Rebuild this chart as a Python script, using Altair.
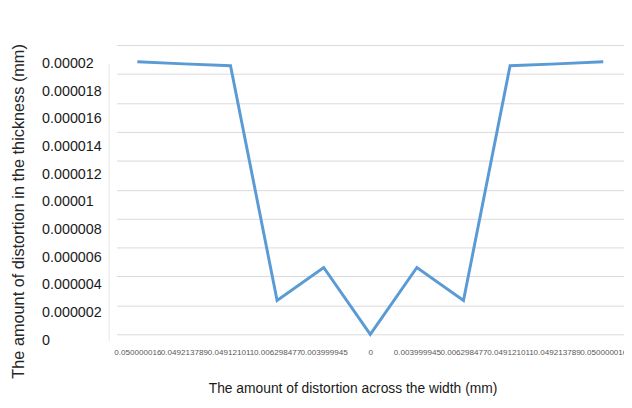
import altair as alt
import pandas as pd

x_labels = ["0.050000016", "0.049213789", "0.049121011", "0.006298477", "0.003999945",
            "0", "0.003999945", "0.006298477", "0.049121011", "0.049213789", "0.050000016"]
y_values = [1.884e-5, 1.870e-5, 1.857e-5, 2.34e-6, 4.62e-6, 0.0,
            4.62e-6, 2.34e-6, 1.857e-5, 1.870e-5, 1.884e-5]
y_ticks = [0, 2e-6, 4e-6, 6e-6, 8e-6, 1e-5, 1.2e-5, 1.4e-5, 1.6e-5, 1.8e-5, 2e-5]
y_tick_labels = ["0", "0.000002", "0.000004", "0.000006", "0.000008", "0.00001",
                 "0.000012", "0.000014", "0.000016", "0.000018", "0.00002"]

df = pd.DataFrame({"idx": list(range(len(x_labels))), "label": x_labels, "value": y_values})

x_label_expr = "[" + ",".join("'%s'" % s for s in x_labels) + "][datum.value]"
y_label_expr = "[" + ",".join("'%s'" % s for s in y_tick_labels) + "][round(datum.value / 0.000002)]"

x_enc = alt.X("idx:O", sort=None,
              scale=alt.Scale(type="point", padding=0.445),
              axis=alt.Axis(labelExpr=x_label_expr, labelAngle=0, labelOverlap=False,
                            labelFont="Liberation Sans", labelFontSize=8.2,
                            labelColor="#595959", labelPadding=14, ticks=False, tickSize=0,
                            domain=False, grid=False,
                            title="The amount of distortion across the width (mm)",
                            titleFont="Liberation Sans", titleFontSize=14,
                            titleFontWeight="normal", titleColor="#1a1a1a",
                            titleX=239, titleY=55, titleBaseline="middle", titleAlign="center"))

line = alt.Chart(df).mark_line(color="#5B9BD5", strokeWidth=3).encode(
    x=x_enc,
    y=alt.Y("value:Q", scale=alt.Scale(domain=[0, 2e-5], nice=False, zero=True),
            axis=alt.Axis(values=y_ticks, labels=False, ticks=False, domain=False,
                          grid=True, gridColor="#d9d9d9", gridWidth=1, title=None)),
)

labels_layer = alt.Chart(df).mark_line(strokeOpacity=0).encode(
    x=x_enc,
    y=alt.Y("value:Q", scale=alt.Scale(domain=[0, 2e-5], range=[299, 18.7], nice=False),
            axis=alt.Axis(orient="left", values=y_ticks, labelExpr=y_label_expr,
                          labelAlign="left", labelBaseline="middle",
                          labelFont="Liberation Sans", labelFontSize=14.5,
                          labelColor="#1a1a1a", labelPadding=68, offset=8,
                          ticks=False, tickSize=0, grid=False,
                          domain=True, domainColor="#e6e6e6", domainWidth=1,
                          title="The amount of distortion in the thickness (mm)",
                          titleFont="Liberation Sans", titleFontSize=16.5,
                          titleFontWeight="normal", titleColor="#262626",
                          titleX=-91, titleY=168, titleAngle=-90,
                          titleBaseline="middle", titleAlign="center")),
)

chart = alt.layer(line, labels_layer).resolve_scale(y="independent").properties(
    width=514, height=293,
    autosize=alt.AutoSizeParams(type="none"),
    padding={"left": 110, "top": 35, "right": 0, "bottom": 64},
    background="white",
).configure_view(stroke=None)

chart.save("out.html", embed_options={"renderer": "svg", "actions": False})
